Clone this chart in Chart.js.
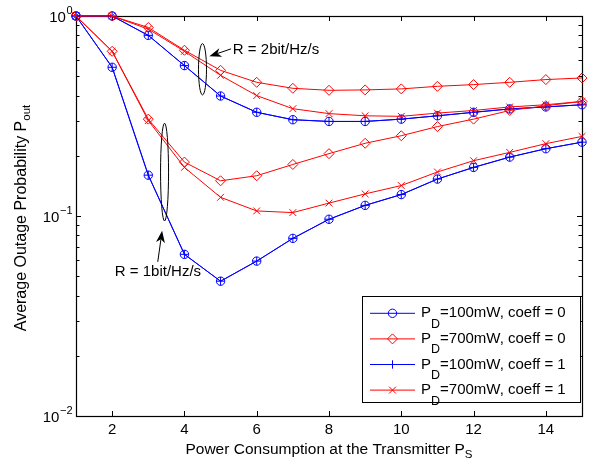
<!DOCTYPE html>
<html><head><meta charset="utf-8">
<script src="https://cdn.jsdelivr.net/npm/chart.js@4.4.1/dist/chart.umd.min.js"></script>
<style>html,body{margin:0;padding:0;background:#fff}#wrap{width:590px;height:464px;position:relative}</style>
</head><body><div id="wrap"><canvas id="c" width="590" height="464"></canvas></div>
<script>
// ---------------- data ----------------
const powerPS = [1, 2, 3, 4, 5, 6, 7, 8, 9, 10, 11, 12, 13, 14, 15];

// R = 2 bit/Hz/s
const r2_pd100_coeff0 = [1, 1, 0.80, 0.565, 0.398, 0.330, 0.303, 0.297, 0.297, 0.305, 0.317, 0.330, 0.343, 0.351, 0.360];
const r2_pd700_coeff0 = [1, 1, 0.876, 0.674, 0.535, 0.466, 0.435, 0.425, 0.427, 0.432, 0.445, 0.454, 0.466, 0.481, 0.490];
const r2_pd100_coeff1 = [1, 1, 0.80, 0.565, 0.398, 0.330, 0.303, 0.297, 0.297, 0.305, 0.317, 0.330, 0.343, 0.351, 0.360];
const r2_pd700_coeff1 = [1, 1, 0.86, 0.666, 0.505, 0.400, 0.344, 0.325, 0.317, 0.315, 0.327, 0.337, 0.351, 0.360, 0.374];

// R = 1 bit/Hz/s
const r1_pd100_coeff0 = [1, 0.554, 0.160, 0.0643, 0.0472, 0.0595, 0.0773, 0.0963, 0.113, 0.128, 0.153, 0.175, 0.197, 0.217, 0.234];
const r1_pd700_coeff0 = [1, 0.666, 0.305, 0.186, 0.150, 0.159, 0.181, 0.205, 0.231, 0.252, 0.280, 0.305, 0.337, 0.356, 0.374];
const r1_pd100_coeff1 = [1, 0.554, 0.160, 0.0643, 0.0472, 0.0595, 0.0773, 0.0963, 0.113, 0.128, 0.153, 0.175, 0.197, 0.217, 0.234];
const r1_pd700_coeff1 = [1, 0.666, 0.300, 0.175, 0.124, 0.106, 0.104, 0.116, 0.129, 0.142, 0.166, 0.189, 0.208, 0.230, 0.250];

const xTickLabels = [2, 4, 6, 8, 10, 12, 14];
const yTickExponents = [0, -1, -2];
const legendMain = ['P', 'P', 'P', 'P'];
const legendSub = ['D', 'D', 'D', 'D'];
const legendRest = ['=100mW, coeff = 0', '=700mW, coeff = 0', '=100mW, coeff = 1', '=700mW, coeff = 1'];
const yTitleMain = 'Average Outage Probability P';
const yTitleSub = 'out';
const xTitleMain = 'Power Consumption at the Transmitter P';
const xTitleSub = 'S';
const rateLabels = ['R = 2bit/Hz/s', 'R = 1bit/Hz/s'];

// ---------------- styles ----------------
const FONT = '"Liberation Sans", Arial, Helvetica, sans-serif';
const BLUE = '#0000ff', RED = '#ff0000';
const seriesStyle = [
  {color: BLUE, marker: 'circle'},
  {color: RED, marker: 'diamond'},
  {color: BLUE, marker: 'plus'},
  {color: RED, marker: 'cross'}
];
const markerMap = {circle: {ps: 'circle', r: 4.2}, diamond: {ps: 'rectRot', r: 5}, plus: {ps: 'cross', r: 4.2}, cross: {ps: 'crossRot', r: 4.8}};

const groups = [
  [r2_pd100_coeff0, r2_pd700_coeff0, r2_pd100_coeff1, r2_pd700_coeff1],
  [r1_pd100_coeff0, r1_pd700_coeff0, r1_pd100_coeff1, r1_pd700_coeff1]
];
const datasets = [];
let idx = 0;
groups.forEach(g => g.forEach((vals, k) => {
  const st = seriesStyle[k];
  const mk = markerMap[st.marker];
  datasets.push({
    data: powerPS.map((x, i) => ({x, y: vals[i]})),
    borderColor: st.color,
    backgroundColor: 'rgba(0,0,0,0)',
    borderWidth: 1,
    pointStyle: mk.ps,
    pointRadius: mk.r,
    pointHoverRadius: mk.r,
    pointBorderColor: st.color,
    pointBackgroundColor: 'rgba(0,0,0,0)',
    pointBorderWidth: 1,
    tension: 0,
    fill: false,
    clip: false,
    order: 100 - (idx++)
  });
}));

// ---------------- drawing helpers ----------------
function drawMarker(ctx, type, x, y, color) {
  ctx.save();
  ctx.strokeStyle = color; ctx.lineWidth = 1;
  ctx.beginPath();
  if (type === 'circle') { ctx.arc(x, y, 4.2, 0, Math.PI * 2); }
  else if (type === 'diamond') { ctx.moveTo(x, y - 5); ctx.lineTo(x + 5, y); ctx.lineTo(x, y + 5); ctx.lineTo(x - 5, y); ctx.closePath(); }
  else if (type === 'plus') { ctx.moveTo(x - 4.2, y); ctx.lineTo(x + 4.2, y); ctx.moveTo(x, y - 4.2); ctx.lineTo(x, y + 4.2); }
  else { const d = 3.4; ctx.moveTo(x - d, y - d); ctx.lineTo(x + d, y + d); ctx.moveTo(x - d, y + d); ctx.lineTo(x + d, y - d); }
  ctx.stroke();
  ctx.restore();
}
function drawArrow(ctx, tx, ty, hx, hy) {
  const ang = Math.atan2(hy - ty, hx - tx);
  const L = 12, W = 4.5, N = 8.5;
  const bx = hx - Math.cos(ang) * N, by = hy - Math.sin(ang) * N;
  ctx.beginPath(); ctx.moveTo(tx, ty); ctx.lineTo(bx, by); ctx.stroke();
  const px = -Math.sin(ang), py = Math.cos(ang);
  const cx = hx - Math.cos(ang) * L, cy = hy - Math.sin(ang) * L;
  ctx.beginPath();
  ctx.moveTo(hx, hy);
  ctx.lineTo(cx + px * W, cy + py * W);
  ctx.lineTo(bx, by);
  ctx.lineTo(cx - px * W, cy - py * W);
  ctx.closePath(); ctx.fill();
}

const frame = {
  id: 'frame',
  beforeDatasetsDraw(chart) {
    const {ctx, chartArea: a, scales: {x, y}} = chart;
    ctx.save();
    ctx.strokeStyle = '#000'; ctx.lineWidth = 1;
    ctx.beginPath();
    // x ticks (inward, bottom and top)
    xTickLabels.forEach(v => {
      const px = Math.round(x.getPixelForValue(v)) + 0.5;
      ctx.moveTo(px, a.bottom); ctx.lineTo(px, a.bottom - 5);
      ctx.moveTo(px, a.top); ctx.lineTo(px, a.top + 5);
    });
    // y ticks major + minor
    yTickExponents.forEach(e => {
      for (let m = 1; m <= 9; m++) {
        const v = m * Math.pow(10, e);
        if (v > 1.0001 || v < 0.00999) continue;
        const py = Math.round(y.getPixelForValue(v)) + 0.5;
        const len = m === 1 ? 5 : 3.5;
        ctx.moveTo(a.left, py); ctx.lineTo(a.left + len, py);
        ctx.moveTo(a.right, py); ctx.lineTo(a.right - len, py);
      }
    });
    ctx.stroke();
    ctx.lineWidth = 1.2;
    ctx.strokeRect(a.left + 0.5, a.top + 0.5, a.right - a.left, a.bottom - a.top);
    // tick labels
    ctx.fillStyle = '#000';
    ctx.font = '15px ' + FONT;
    ctx.textAlign = 'center'; ctx.textBaseline = 'middle';
    xTickLabels.forEach(v => ctx.fillText(String(v), x.getPixelForValue(v), a.bottom + 14));
    yTickExponents.forEach(e => {
      const py = y.getPixelForValue(Math.pow(10, e));
      const sup = e === 0 ? '0' : '\u2212' + Math.abs(e);
      ctx.font = '11px ' + FONT;
      ctx.textAlign = 'right'; ctx.textBaseline = 'alphabetic';
      const sw = ctx.measureText(sup).width;
      ctx.fillText(sup, 72.5, py - 2);
      ctx.font = '15px ' + FONT;
      ctx.textBaseline = 'middle';
      ctx.fillText('10', 72.5 - sw - 0.5, py + 2);
    });
    // x title
    ctx.textAlign = 'left'; ctx.textBaseline = 'middle';
    ctx.font = '15.5px ' + FONT;
    const xm = ctx.measureText(xTitleMain).width;
    ctx.font = '11.5px ' + FONT;
    const xs = ctx.measureText(xTitleSub).width;
    const xcx = (a.left + a.right) / 2 - (xm + xs) / 2;
    ctx.font = '15.5px ' + FONT;
    ctx.fillText(xTitleMain, xcx, 450);
    ctx.font = '11.5px ' + FONT;
    ctx.fillText(xTitleSub, xcx + xm, 455);
    // y title
    ctx.save();
    ctx.translate(22, 218);
    ctx.rotate(-Math.PI / 2);
    ctx.font = '16px ' + FONT;
    const ym = ctx.measureText(yTitleMain).width;
    ctx.font = '11.5px ' + FONT;
    const ys = ctx.measureText(yTitleSub).width;
    const ys0 = -(ym + ys) / 2;
    ctx.font = '16px ' + FONT;
    ctx.fillText(yTitleMain, ys0, 0);
    ctx.font = '11.5px ' + FONT;
    ctx.fillText(yTitleSub, ys0 + ym, 5);
    ctx.restore();
    ctx.restore();
  },
  afterDatasetsDraw(chart) {
    const {ctx, scales: {x, y}} = chart;
    ctx.save();
    ctx.strokeStyle = '#000'; ctx.fillStyle = '#000'; ctx.lineWidth = 1;
    // ellipses
    [[4.5, 0.728, 0.403], [3.45, 0.291, 0.0944]].forEach(([cx, vt, vb]) => {
      const px = x.getPixelForValue(cx), t = y.getPixelForValue(vt), b = y.getPixelForValue(vb);
      ctx.beginPath(); ctx.ellipse(px, (t + b) / 2, 4, (b - t) / 2, 0, 0, Math.PI * 2); ctx.stroke();
    });
    // arrows
    drawArrow(ctx, x.getPixelForValue(5.29), y.getPixelForValue(0.685), x.getPixelForValue(4.69), y.getPixelForValue(0.629));
    drawArrow(ctx, x.getPixelForValue(3.262), y.getPixelForValue(0.059), x.getPixelForValue(3.383), y.getPixelForValue(0.0844));
    ctx.font = '15px ' + FONT;
    ctx.textBaseline = 'middle';
    ctx.textAlign = 'left';
    ctx.fillText(rateLabels[0], x.getPixelForValue(5.34), y.getPixelForValue(0.68));
    ctx.textAlign = 'center';
    ctx.fillText(rateLabels[1], x.getPixelForValue(3.267), y.getPixelForValue(0.0526));
    // legend
    const L = 362.5, T = 296.5, R = 580.5, B = 402.5;
    ctx.fillStyle = '#fff';
    ctx.fillRect(L, T, R - L, B - T);
    ctx.strokeStyle = '#000';
    ctx.strokeRect(L, T, R - L, B - T);
    legendRest.forEach((txt, i) => {
      const cy = 313.3 + i * 25.6;
      const st = seriesStyle[i];
      ctx.strokeStyle = st.color; ctx.lineWidth = 1;
      ctx.beginPath(); ctx.moveTo(370, cy); ctx.lineTo(415, cy); ctx.stroke();
      drawMarker(ctx, st.marker, 392.5, cy, st.color);
      ctx.fillStyle = '#000';
      ctx.textAlign = 'left'; ctx.textBaseline = 'middle';
      ctx.font = '15px ' + FONT;
      ctx.fillText(legendMain[i], 421, cy);
      const pw = ctx.measureText(legendMain[i]).width;
      ctx.font = '12.5px ' + FONT;
      ctx.fillText(legendSub[i], 421 + pw, cy + 11);
      const dw = ctx.measureText(legendSub[i]).width;
      ctx.font = '15px ' + FONT;
      ctx.fillText(txt, 421 + pw + dw, cy);
    });
    ctx.restore();
  }
};

new Chart(document.getElementById('c'), {
  type: 'line',
  data: {datasets},
  options: {
    responsive: false,
    animation: false,
    devicePixelRatio: 1,
    layout: {padding: {top: 16, right: 8, left: 0, bottom: 0}},
    plugins: {legend: {display: false}, tooltip: {enabled: false}},
    scales: {
      x: {type: 'linear', min: 1, max: 15, ticks: {display: false}, grid: {display: false}, border: {display: false},
          afterFit: s => { s.height = 48; }},
      y: {type: 'logarithmic', min: 0.01, max: 1, ticks: {display: false}, grid: {display: false}, border: {display: false},
          afterFit: s => { s.width = 76; }}
    }
  },
  plugins: [frame]
});
</script></body></html>
